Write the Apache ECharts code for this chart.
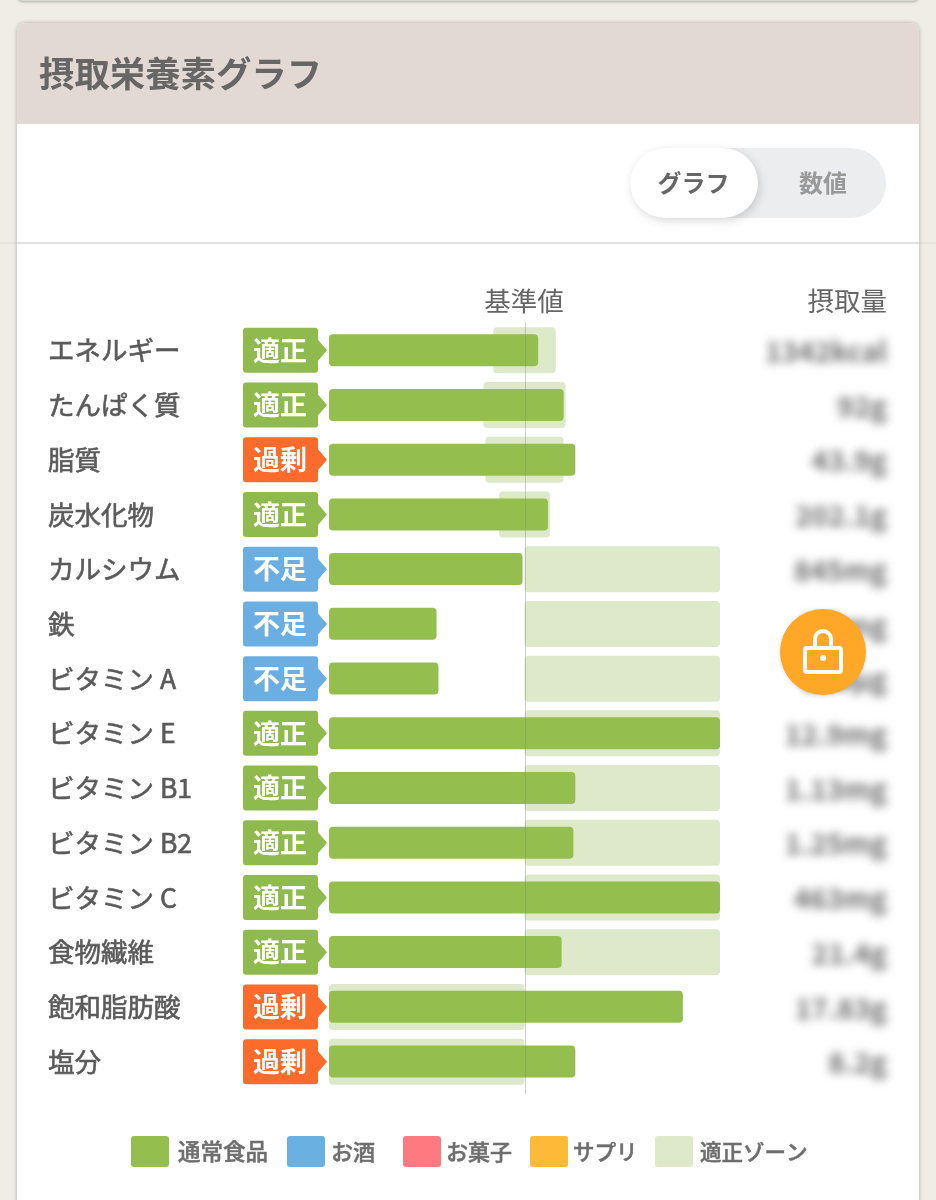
<!DOCTYPE html>
<html><head><meta charset="utf-8">
<style>
html,body{margin:0;padding:0;background:#efede6;width:936px;height:1200px;overflow:hidden}
.rule{position:absolute;left:0;top:242px;width:936px;height:2px;background:#e6e5e0}
.topcard{position:absolute;left:17px;top:-40px;width:902px;height:41px;background:#d9d8d1;border-radius:6px;box-shadow:0 1px 3px rgba(0,0,0,.25)}
.card{position:absolute;left:17px;top:23px;width:902px;height:1220px;background:#fff;border-radius:8px;box-shadow:0 0 4px rgba(0,0,0,.28);overflow:hidden}
.head{position:absolute;left:0;top:0;width:902px;height:101px;background:#e3d9d4}
.rule2{position:absolute;left:0;top:219px;width:902px;height:2px;background:#e2e2e2}
#values,#main{position:absolute;left:0;top:0;width:936px;height:1200px}
#values{filter:blur(5px)}
</style></head>
<body>
<div class="topcard"></div>
<div class="rule"></div>
<div class="card"><div class="head"></div><div class="rule2"></div></div>
<div id="values"></div>
<div id="main"></div>
<script src="https://cdn.jsdelivr.net/npm/echarts@6/dist/echarts.min.js"></script>
<script>
const FONT = '"Noto Sans CJK JP","Noto Sans",sans-serif';
const categories = ['エネルギー','たんぱく質','脂質','炭水化物','カルシウム','鉄','ビタミン A','ビタミン E','ビタミン B1','ビタミン B2','ビタミン C','食物繊維','飽和脂肪酸','塩分'];
const statuses   = ['適正','適正','過剰','適正','不足','不足','不足','適正','適正','適正','適正','適正','過剰','過剰'];
const foodValues = [107,120,126,112,99,55,56,200,126,125,200,119,181,126];
const zoneStart  = [84,79,80,87,100,100,100,100,100,100,100,100,0,0];
const zoneEnd    = [116,121,120,113,200,200,200,200,200,200,200,200,100,100];
const intake     = ['1342kcal','92g','43.9g','202.1g','845mg','6.2mg','380μg','12.9mg','1.13mg','1.25mg','463mg','21.4g','17.83g','8.2g'];
const baseLine   = [[100,0],[100,1]];
const legendNames = ['通常食品','お酒','お菓子','サプリ','適正ゾーン'];
const legendLefts = [131,287,403,530,655];
const legendPads  = [4,1,0,0,2];
const legendSizes = [22.5,22,22,21.5,21.5];
const statusColor = {'適正':'#8fba4d','不足':'#6aaee2','過剰':'#fb6b2c'};
const tagPath = 'path://M3 0H72Q75 0 75 3V12L84 22.5L75 33V42Q75 45 72 45H3Q0 45 0 42V3Q0 0 3 0Z';
const iconPath = 'path://M3 0H35Q38 0 38 3V28Q38 31 35 31H3Q0 31 0 28V3Q0 0 3 0Z';
const H=766;

const valuesChart = echarts.init(document.getElementById('values'),null,{renderer:'canvas'});
valuesChart.setOption({
  animation:false,
  grid:{left:700,width:187,top:324,height:H},
  xAxis:{type:'value',show:false},
  yAxis:{type:'category',inverse:true,data:intake,position:'right',axisLine:{show:false},axisTick:{show:false},
    axisLabel:{align:'right',margin:0,fontSize:28,color:'#6e6e6e',fontFamily:FONT,interval:0,fontWeight:'bold'}},
  series:[{type:'bar',data:[]}]
});

const chart = echarts.init(document.getElementById('main'),null,{renderer:'canvas'});
const barBase = {type:'bar',animation:false,silent:true};
chart.setOption({
  animation:false,
  backgroundColor:'transparent',
  grid:[
    {left:243,width:84,top:323,height:H},
    {left:329,width:391,top:324.5,height:H},
    {left:330,width:391,top:322,height:772},
    {left:329,width:391,top:323,height:H}
  ],
  xAxis:[
    {gridIndex:0,type:'value',min:0,max:1,show:false},
    {gridIndex:1,type:'value',min:0,max:200,show:false},
    {gridIndex:2,type:'value',min:0,max:200,show:false},
    {gridIndex:3,type:'value',min:0,max:200,show:false}
  ],
  yAxis:[
    {gridIndex:0,type:'category',inverse:true,data:categories,axisLine:{show:false},axisTick:{show:false},
      axisLabel:{align:'left',margin:195,interval:0,fontSize:26.5,color:'#5a5a5a',fontFamily:FONT,textBorderColor:'#5a5a5a',textBorderWidth:0.6,padding:[3,0,0,0]}},
    {gridIndex:1,type:'category',inverse:true,data:categories,show:false},
    {gridIndex:3,type:'category',inverse:true,data:categories,show:false},
    {gridIndex:2,type:'value',min:0,max:1,show:false}
  ],
  legend:legendNames.map((n,i)=>({
    left:legendLefts[i],top:1136,padding:0,itemWidth:38,itemHeight:31,icon:iconPath,
    data:[n],selectedMode:false,
    textStyle:{fontSize:legendSizes[i],color:'#6e6e6e',fontFamily:FONT,fontWeight:500,padding:[0,0,2,legendPads[i]],textBorderColor:'#6e6e6e',textBorderWidth:0.5}
  })),
  series:[
    {...barBase,name:'zoneBase',xAxisIndex:3,yAxisIndex:2,stack:'zone',barWidth:46,itemStyle:{color:'transparent'},data:zoneStart,z:2},
    {...barBase,name:'適正ゾーン',xAxisIndex:3,yAxisIndex:2,stack:'zone',barWidth:46,itemStyle:{color:'#dde9c9',borderRadius:4},
      data:zoneEnd.map((e,i)=>e-zoneStart[i]),z:2},
    {...barBase,name:'通常食品',xAxisIndex:1,yAxisIndex:1,barWidth:32,itemStyle:{color:'#94bf4e',borderRadius:4},data:foodValues,z:3},
    {...barBase,name:'お酒',xAxisIndex:1,yAxisIndex:1,itemStyle:{color:'#6ab0e0'},data:[],z:3},
    {...barBase,name:'お菓子',xAxisIndex:1,yAxisIndex:1,itemStyle:{color:'#ff7a80'},data:[],z:3},
    {...barBase,name:'サプリ',xAxisIndex:1,yAxisIndex:1,itemStyle:{color:'#ffb938'},data:[],z:3},
    {type:'line',name:'基準値線',xAxisIndex:2,yAxisIndex:3,data:baseLine,symbol:'none',silent:true,
      lineStyle:{color:'rgba(125,125,125,0.36)',width:1},z:5},
    {type:'scatter',name:'判定',xAxisIndex:0,yAxisIndex:0,symbol:tagPath,symbolSize:[84,45],silent:true,z:4,
      data:statuses.map((s,i)=>({value:[0.5,i],name:s,itemStyle:{color:statusColor[s],opacity:1}})),
      label:{show:true,position:'inside',offset:[-5,0],formatter:'{b}',color:'#fff',fontSize:27,fontWeight:'bold',fontFamily:FONT,textBorderWidth:0}}
  ],
  graphic:[
    {type:'text',style:{x:39,y:74,text:'摂取栄養素グラフ',verticalAlign:'middle',fontSize:35.4,fontWeight:'bold',fill:'#666',fontFamily:FONT}},
    {type:'rect',shape:{x:630,y:148,width:256,height:70,r:35},style:{fill:'#ecedef'}},
    {type:'rect',shape:{x:630,y:148,width:128,height:70,r:35},style:{fill:'#fff',shadowColor:'rgba(0,0,0,0.15)',shadowBlur:10,shadowOffsetX:2,shadowOffsetY:3},z:1},
    {type:'text',z:2,style:{x:693.5,y:183,text:'グラフ',align:'center',verticalAlign:'middle',fontSize:24,fontWeight:'bold',fill:'#666',fontFamily:FONT}},
    {type:'text',z:2,style:{x:823,y:183,text:'数値',align:'center',verticalAlign:'middle',fontSize:24,fontWeight:'bold',fill:'#999',fontFamily:FONT}},
    {type:'text',z:2,style:{x:524,y:301,text:'基準値',align:'center',verticalAlign:'middle',fontSize:26.5,fill:'#666',fontFamily:FONT}},
    {type:'text',z:2,style:{x:887,y:301,text:'摂取量',align:'right',verticalAlign:'middle',fontSize:26.5,fill:'#666',fontFamily:FONT}},
    {type:'circle',z:100,shape:{cx:823,cy:652,r:43},style:{fill:'#ffa726',shadowColor:'rgba(0,0,0,0.12)',shadowBlur:4,shadowOffsetY:1}},
    {type:'rect',z:101,shape:{x:805,y:648,width:36,height:24,r:2},style:{fill:'none',stroke:'#fff',lineWidth:4}},
    {type:'arc',z:101,shape:{cx:823,cy:639,r:8,startAngle:Math.PI,endAngle:2*Math.PI,clockwise:true},style:{fill:'none',stroke:'#fff',lineWidth:4}},
    {type:'line',z:101,shape:{x1:815,y1:639,x2:815,y2:648},style:{stroke:'#fff',lineWidth:4}},
    {type:'line',z:101,shape:{x1:831,y1:639,x2:831,y2:648},style:{stroke:'#fff',lineWidth:4}},
    {type:'circle',z:101,shape:{cx:823,cy:658,r:3},style:{fill:'#fff'}}
  ]
});
</script>
</body></html>
